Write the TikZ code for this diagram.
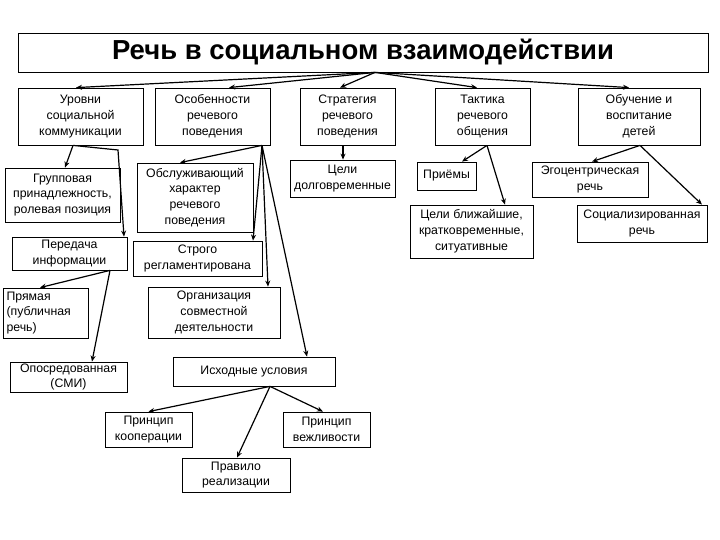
\documentclass[tikz,border=0pt]{standalone}
\usepackage{fontspec}
\setmainfont{Liberation Sans}
\usetikzlibrary{positioning,calc,arrows.meta}

\begin{document}
\begin{tikzpicture}[
	x=1pt, y=-1pt,
	block/.style={
		draw=black,
		line width=0.8pt,
		fill=white,
		inner sep=1pt,
		align=center,
		font=\fontsize{12.3}{15.8}\selectfont
	},
	link/.style={
		-{Stealth[length=6pt,width=5pt]},
		line width=1.2pt
	}
	]
	
	\useasboundingbox (0,0) rectangle (720,540);
	
	% ---------------------------------------------------------
	% TITLE
	% ---------------------------------------------------------
	
	\node[
	block,
	minimum width=690pt,
	minimum height=39pt,
	font=\fontsize{27.5}{30}\selectfont\bfseries
	]
	(title) at (363,52.5)
	{Речь в социальном взаимодействии};
	
	% ---------------------------------------------------------
	% FIRST LEVEL
	% ---------------------------------------------------------
	
	\node[block, minimum width=125pt, minimum height=57pt]
	(levels) at (80.5,116.5)
	{Уровни\\социальной\\коммуникации};
	
	\node[block, minimum width=115pt, minimum height=57pt]
	(features) at (212.5,116.5)
	{Особенности\\речевого\\поведения};
	
	\node[block, minimum width=95pt, minimum height=57pt]
	(strategy) at (347.5,116.5)
	{Стратегия\\речевого\\поведения};
	
	\node[block, minimum width=95pt, minimum height=57pt]
	(tactics) at (482.5,116.5)
	{Тактика\\речевого\\общения};
	
	\node[block, minimum width=122pt, minimum height=57pt]
	(teaching) at (639,116.5)
	{Обучение и\\воспитание\\детей};
	
	% ---------------------------------------------------------
	% LEVELS BRANCH
	% ---------------------------------------------------------
	
	\node[block, minimum width=115pt, minimum height=54pt]
	(group) at (62.5,195)
	{Групповая\\принадлежность,\\ролевая позиция};
	
	\node[block, minimum width=115pt, minimum height=33pt]
	(transfer) at (69.5,253.5)
	{Передача\\информации};
	
	\node[block, text width=78pt, inner xsep=3.5pt, minimum height=50pt, align=left]
	(direct) at (45.5,313)
	{Прямая\\(публичная\\речь)};
	
	\node[block, minimum width=117pt, minimum height=30pt]
	(mediated) at (68.5,377)
	{Опосредованная\\(СМИ)};
	
	% ---------------------------------------------------------
	% FEATURES BRANCH
	% ---------------------------------------------------------
	
	\node[block, minimum width=116pt, minimum height=69pt]
	(service) at (195,197.5)
	{Обслуживающий\\характер\\речевого\\поведения};
	
	\node[block, minimum width=129pt, minimum height=35pt]
	(strict) at (197.5,258.5)
	{Строго\\регламентирована};
	
	\node[block, minimum width=132pt, minimum height=51pt]
	(organize) at (214,312.5)
	{Организация\\совместной\\деятельности};
	
	\node[block, minimum width=162pt, minimum height=29pt]
	(initial) at (254,371.5)
	{Исходные условия};
	
	\node[block, minimum width=87pt, minimum height=35pt]
	(coop) at (148.5,429.5)
	{Принцип\\кооперации};
	
	\node[block, minimum width=87pt, minimum height=35pt]
	(polite) at (326.5,429.5)
	{Принцип\\вежливости};
	
	\node[block, minimum width=108pt, minimum height=34pt]
	(rule) at (236,475)
	{Правило\\реализации};
	
	% ---------------------------------------------------------
	% STRATEGY, TACTICS, TEACHING BRANCHES
	% ---------------------------------------------------------
	
	\node[block, minimum width=105pt, minimum height=37pt]
	(longgoals) at (342.5,178.5)
	{Цели\\долговременные};
	
	\node[block, minimum width=59pt, minimum height=28pt]
	(methods) at (446.5,176)
	{Приёмы};
	
	\node[block, minimum width=123pt, minimum height=53pt]
	(shortgoals) at (471.5,231.5)
	{Цели ближайшие,\\кратковременные,\\ситуативные};
	
	\node[block, minimum width=116pt, minimum height=35pt]
	(egocentric) at (590,179.5)
	{Эгоцентрическая\\речь};
	
	\node[block, minimum width=130pt, minimum height=37pt]
	(social) at (642,223.5)
	{Социализированная\\речь};
	
	\coordinate (lvbend) at (118,150);
	
	% ---------------------------------------------------------
	% ARROWS
	% ---------------------------------------------------------
	
	\draw[link] ([xshift=12pt]title.south) -- ([xshift=-4.5pt]levels.north);
	\draw[link] ([xshift=12pt]title.south) -- ([xshift=16.5pt]features.north);
	\draw[link] ([xshift=12pt]title.south) -- ([xshift=-7.5pt]strategy.north);
	\draw[link] ([xshift=12pt]title.south) -- ([xshift=-5.5pt]tactics.north);
	\draw[link] ([xshift=12pt]title.south) -- ([xshift=-10pt]teaching.north);
	
	\draw[link] ([xshift=-7.5pt]levels.south) -- ([xshift=2.5pt]group.north);
	\draw[link] ([xshift=-7.5pt]levels.south) -- (lvbend) -- ([xshift=54.5pt]transfer.north);
	
	\draw[link] ([xshift=40.5pt]transfer.south) -- ([xshift=-5.5pt]direct.north);
	\draw[link] ([xshift=40.5pt]transfer.south) -- ([xshift=23.5pt]mediated.north);
	
	\draw[link] ([xshift=49.5pt]features.south) -- ([xshift=-15pt]service.north);
	\draw[link] ([xshift=49.5pt]features.south) -- ([xshift=55.5pt]strict.north);
	\draw[link] ([xshift=49.5pt]features.south) -- ([xshift=54pt]organize.north);
	\draw[link] ([xshift=49.5pt]features.south) -- ([xshift=53pt]initial.north);
	
	\draw[link] ([xshift=16pt]initial.south) -- (coop.north);
	\draw[link] ([xshift=16pt]initial.south) -- ([xshift=1pt]rule.north);
	\draw[link] ([xshift=16pt]initial.south) -- ([xshift=-3.5pt]polite.north);
	
	\draw[link] ([xshift=-4.5pt]strategy.south) -- ([xshift=-4.5pt]strategy.south |- longgoals.north);
	
	\draw[link] ([xshift=4.5pt]tactics.south) -- ([xshift=15.5pt]methods.north);
	\draw[link] ([xshift=4.5pt]tactics.south) -- ([xshift=33.5pt]shortgoals.north);
	
	\draw[link] ([xshift=1pt]teaching.south) -- ([xshift=2pt]egocentric.north);
	\draw[link] ([xshift=1pt]teaching.south) -- ([xshift=60pt]social.north);
	
\end{tikzpicture}
\end{document}
